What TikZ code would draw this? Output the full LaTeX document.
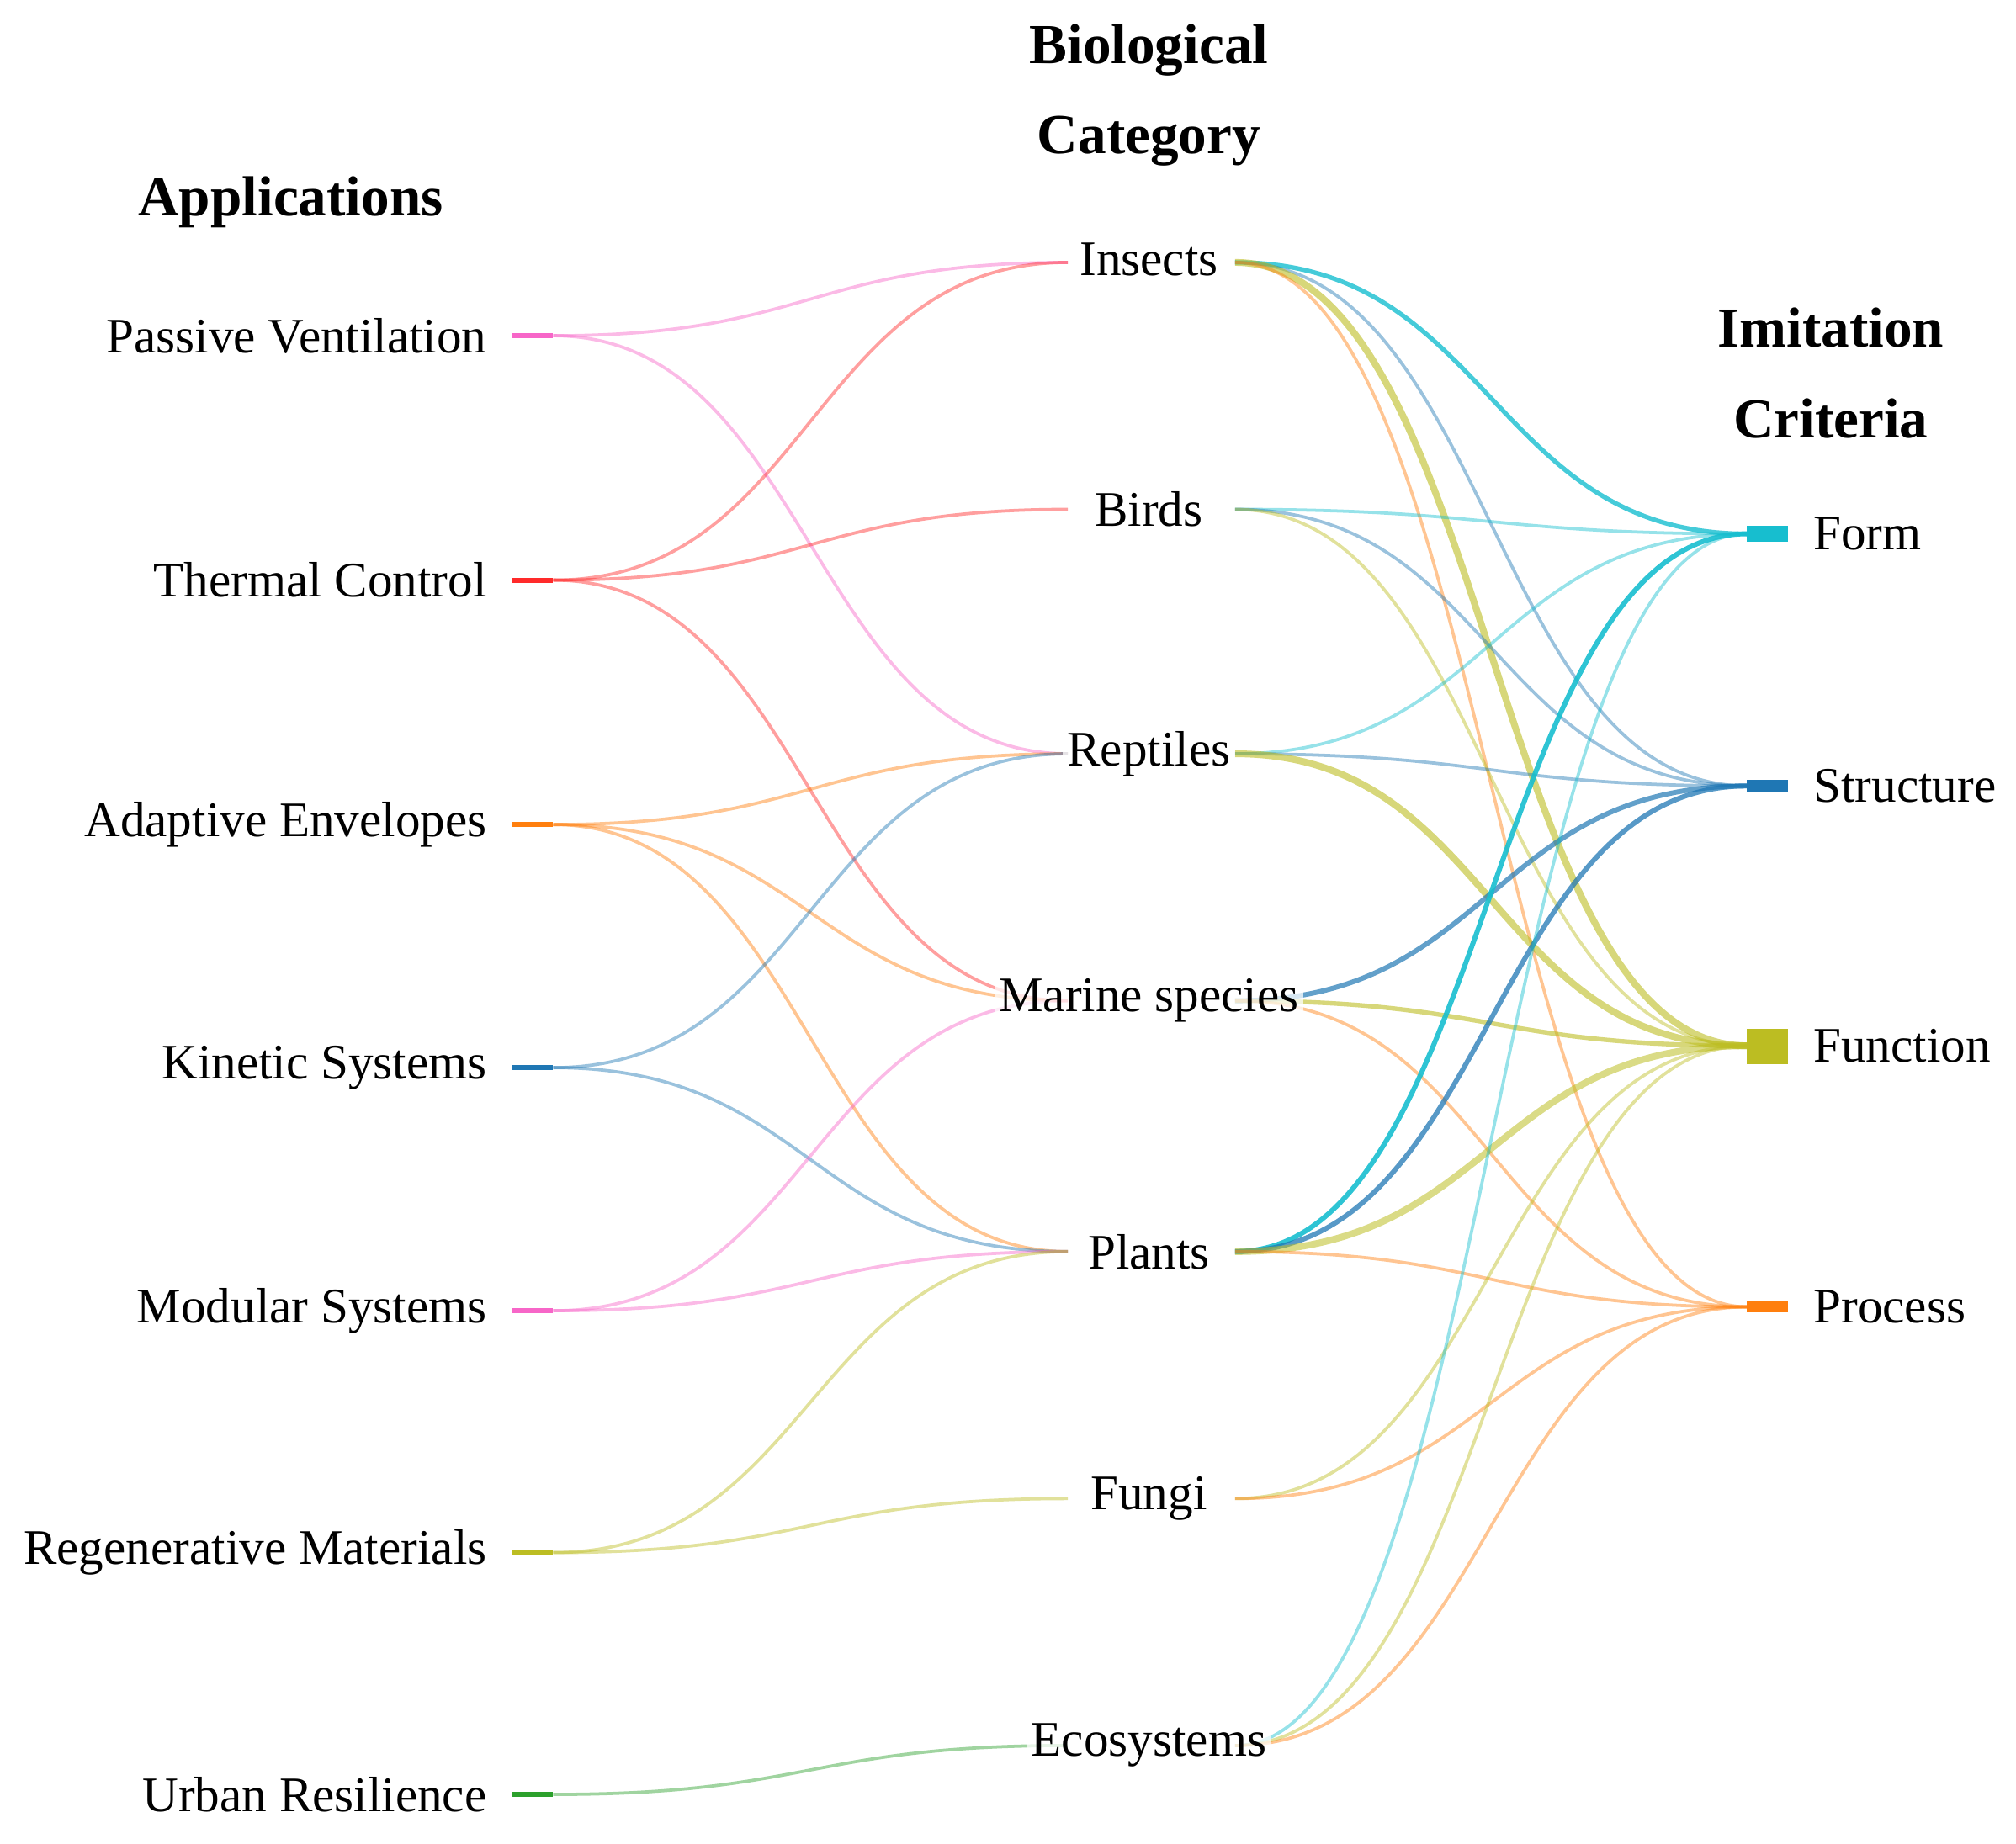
\documentclass[tikz,border=0pt]{standalone}
\usepackage{fontspec}
\setmainfont{Liberation Serif}
\usetikzlibrary{calc}
\begin{document}
\definecolor{cpink}{HTML}{F766C8}
\definecolor{cred}{HTML}{FF2A2A}
\definecolor{corange}{HTML}{FF7F0E}
\definecolor{cblue}{HTML}{1F77B4}
\definecolor{colive}{HTML}{BCBD22}
\definecolor{cgreen}{HTML}{2CA02C}
\definecolor{ccyan}{HTML}{17BECF}
\begin{tikzpicture}[x=0.01cm,y=-0.01cm,
  lab/.style={font=\fontsize{11}{13}\selectfont},
  ttl/.style={font=\bfseries\fontsize{12.5}{20}\selectfont,align=center},
  lk/.style={line width=0.7pt,draw opacity=0.45}]
\useasboundingbox (0,0) rectangle (1567,1433);
\newcommand\lnk[4]{\path let \p1=(#1), \p2=(#2) in
  [draw=#3,lk,#4] (\p1) .. controls ({(\x1+\x2)/2},\y1) and ({(\x1+\x2)/2},\y2) .. (\p2);}
% left
\foreach \n/\t/\y/\c in {pv/Passive Ventilation/261/cpink, tc/Thermal Control/451/cred,
  ae/Adaptive Envelopes/641/corange, ks/Kinetic Systems/830/cblue,
  ms/Modular Systems/1019/cpink, rm/Regenerative Materials/1207/colive,
  ur/Urban Resilience/1395/cgreen}{
  \coordinate (\n) at (430,\y);
  \fill[\c] (398,\y-2) rectangle (430,\y+2);
  \node[lab,anchor=east,inner sep=0pt] (\n t) at (379,\y) {\t};
}
% middle
\foreach \n/\t/\y in {in/Insects/204, bi/Birds/396, re/Reptiles/586, ma/Marine species/778,
  pl/Plants/973, fu/Fungi/1165, ec/Ecosystems/1357}{
  \coordinate (\n L) at (830,\y);
  \coordinate (\n R) at (960,\y);
}
% right
\coordinate (fo) at (1358,415);
\coordinate (st) at (1358,611);
\coordinate (fn) at (1358,813);
\coordinate (pr) at (1358,1016);
\fill[ccyan] (1358,409) rectangle (1390,421);
\fill[cblue] (1358,606) rectangle (1390,616);
\fill[colive] (1358,800) rectangle (1390,827);
\fill[corange] (1358,1012) rectangle (1390,1020);
% links left->middle
\lnk{pv}{inL}{cpink}{}
\lnk{pv}{reL}{cpink}{}
\lnk{tc}{inL}{cred}{}
\lnk{tc}{biL}{cred}{}
\lnk{tc}{maL}{cred}{}
\lnk{ae}{reL}{corange}{}
\lnk{ae}{maL}{corange}{}
\lnk{ae}{plL}{corange}{}
\lnk{ks}{reL}{cblue}{}
\lnk{ks}{plL}{cblue}{}
\lnk{ms}{maL}{cpink}{}
\lnk{ms}{plL}{cpink}{}
\lnk{rm}{plL}{colive}{}
\lnk{rm}{fuL}{colive}{}
\lnk{ur}{ecL}{cgreen}{}
% links middle->right
\lnk{inR}{fo}{ccyan}{line width=1pt,draw opacity=0.8}
\lnk{inR}{st}{cblue}{}
\lnk{inR}{fn}{colive}{line width=1.5pt,draw opacity=0.6}
\lnk{inR}{pr}{corange}{}
\lnk{biR}{fo}{ccyan}{}
\lnk{biR}{st}{cblue}{}
\lnk{biR}{fn}{colive}{}
\lnk{reR}{fo}{ccyan}{}
\lnk{reR}{st}{cblue}{}
\lnk{reR}{fn}{colive}{line width=1.5pt,draw opacity=0.6}
\lnk{maR}{st}{cblue}{line width=1.1pt,draw opacity=0.7}
\lnk{maR}{fn}{colive}{line width=1pt,draw opacity=0.6}
\lnk{maR}{pr}{corange}{}
\lnk{plR}{fo}{ccyan}{line width=1.1pt,draw opacity=0.9}
\lnk{plR}{st}{cblue}{line width=1.1pt,draw opacity=0.75}
\lnk{plR}{fn}{colive}{line width=1.5pt,draw opacity=0.55}
\lnk{plR}{pr}{corange}{}
\lnk{fuR}{fn}{colive}{}
\lnk{fuR}{pr}{corange}{}
\lnk{ecR}{fo}{ccyan}{}
\lnk{ecR}{fn}{colive}{}
\lnk{ecR}{pr}{corange}{}
% middle labels
\foreach \n/\t/\y in {in/Insects/202, bi/Birds/396, re/Reptiles/586, ma/Marine species/778,
  pl/Plants/973, fu/Fungi/1165, ec/Ecosystems/1357}{
  \node[lab,fill=white,fill opacity=0.75,text opacity=1,inner sep=1pt] (\n t) at (893,\y) {\t};
}
% right labels
\node[lab,anchor=west,inner sep=0pt] (fot) at (1409,415) {Form};
\node[lab,anchor=west,inner sep=0pt] (stt) at (1409,611) {Structure};
\node[lab,anchor=west,inner sep=0pt] (fnt) at (1409,813) {Function};
\node[lab,anchor=west,inner sep=0pt] (prt) at (1409,1016) {Process};
% titles
\node[ttl] (t1) at (226,157) {Applications};
\node[ttl] (t2) at (893,74) {Biological\\Category};
\node[ttl] (t3) at (1423,290) {Imitation\\Criteria};
\end{tikzpicture}
\end{document}
